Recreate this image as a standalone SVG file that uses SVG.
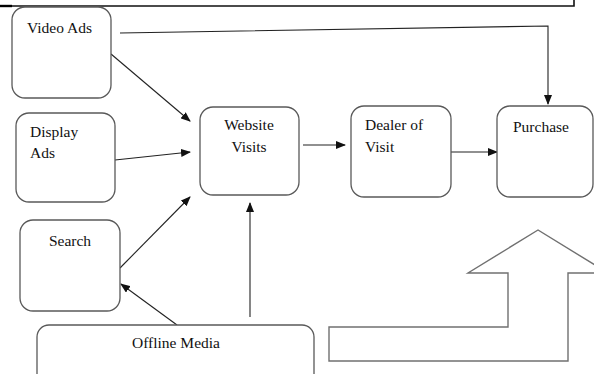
<svg xmlns="http://www.w3.org/2000/svg" width="594" height="374" viewBox="0 0 594 374">
<defs>
<style>
.box{fill:#fff;stroke:#595959;stroke-width:1.3}
.lbl{font-family:"Liberation Serif",serif;font-size:15.5px;fill:#111}
.con{fill:none;stroke:#222;stroke-width:1.1}
.blk{fill:#fff;stroke:#707070;stroke-width:1.4}
</style>
<marker id="ah" markerWidth="10" markerHeight="8" refX="9" refY="4" orient="auto" markerUnits="userSpaceOnUse">
<path d="M0,0 L10,4 L0,8 Z" fill="#111"/>
</marker>
</defs>
<rect width="594" height="374" fill="#fff"/>
<g id="frame">
<path d="M0,6 H574 V0" fill="none" stroke="#111" stroke-width="1.6"/>
<path d="M0,6 H12" fill="none" stroke="#000" stroke-width="2.4"/>
</g>
<g id="connectors">
<path class="con" d="M120,33 L548,26 L548,104" marker-end="url(#ah)"/>
<path class="con" d="M111,54 L190,121" marker-end="url(#ah)"/>
<path class="con" d="M115,160 L190,152" marker-end="url(#ah)"/>
<path class="con" d="M120,268 L190,197" marker-end="url(#ah)"/>
<path class="con" d="M177,325 L121,284" marker-end="url(#ah)"/>
<path class="con" d="M250,317 L250,203" marker-end="url(#ah)"/>
<path class="con" d="M303,145 L345,145" marker-end="url(#ah)"/>
<path class="con" d="M451,152 L497,152" marker-end="url(#ah)"/>
</g>
<g id="video-ads">
<rect class="box" x="12" y="7" width="99" height="91" rx="13"/>
<text class="lbl" x="27" y="33">Video Ads</text>
</g>
<g id="display-ads">
<rect class="box" x="16" y="113" width="99" height="89" rx="13"/>
<text class="lbl" x="30" y="137">Display</text>
<text class="lbl" x="30" y="158">Ads</text>
</g>
<g id="search">
<rect class="box" x="20" y="220" width="100" height="91" rx="13"/>
<text class="lbl" x="70" y="246" text-anchor="middle">Search</text>
</g>
<g id="offline-media">
<rect class="box" x="37" y="325" width="277" height="70" rx="12"/>
<text class="lbl" x="176" y="348" text-anchor="middle">Offline Media</text>
</g>
<g id="website-visits">
<rect class="box" x="200" y="107" width="99" height="88" rx="13"/>
<text class="lbl" x="249" y="130" text-anchor="middle">Website</text>
<text class="lbl" x="249" y="152" text-anchor="middle">Visits</text>
</g>
<g id="dealer-of-visit">
<rect class="box" x="351" y="106" width="100" height="91" rx="13"/>
<text class="lbl" x="365" y="130">Dealer of</text>
<text class="lbl" x="365" y="152">Visit</text>
</g>
<g id="purchase">
<rect class="box" x="497" y="106" width="96" height="91" rx="13"/>
<text class="lbl" x="513" y="132">Purchase</text>
</g>
<g id="block-arrow">
<path class="blk" d="M538,230 L468,273 L508,273 L508,327 L329,327 L329,361 L568,361 L568,273 L608,273 Z"/>
</g>
</svg>
